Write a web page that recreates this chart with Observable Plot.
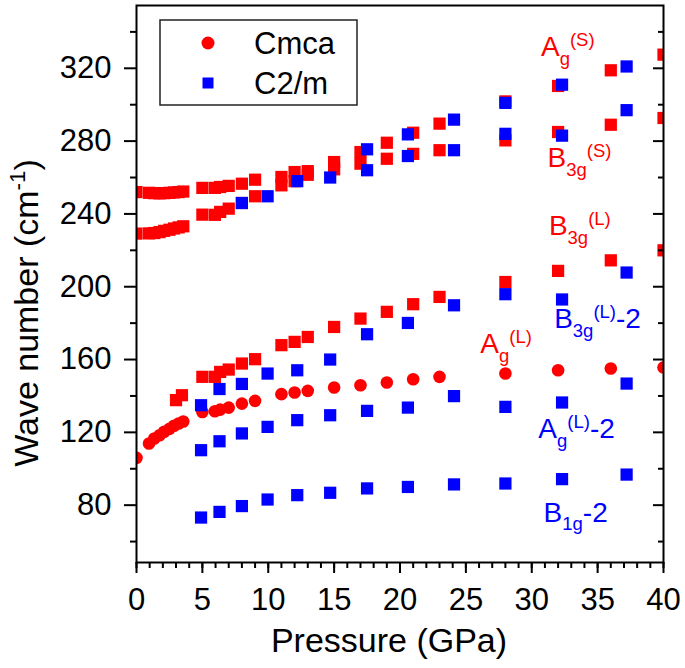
<!DOCTYPE html>
<html><head><meta charset="utf-8">
<script src="https://cdn.jsdelivr.net/npm/d3@7"></script>
<script src="https://cdn.jsdelivr.net/npm/@observablehq/plot@0.6"></script>
<style>
body{margin:0;background:#fff;}
#chart{position:relative;width:685px;height:668px;}
#chart svg{display:block;}
</style></head><body><div id="chart"></div>
<script>
// ---------- data ----------
// Cmca (red) pressures, GPa
const cmcaPressure = [0,0.95,1.35,1.75,2.1,2.5,2.85,3.2,3.55,5,5.95,6.35,7,8,9,11,12,13,15,17,19,21,23,28,32,36,40];
const cmcaAgL  = [106,113.9,116.6,118.4,120.3,121.9,123.6,124.9,126,131.2,131.6,132.5,133.6,135.8,137.3,141,141.9,142.8,144.6,145.9,147.4,149.2,150.5,152.3,154.1,155.1,155.6];
const cmcaAgS  = [252,251.6,251.4,251.3,251.4,251.6,251.8,252,252.3,254.3,254.3,254.8,255.4,256.6,258.8,260.3,263,263.5,268.5,274,279.1,284.6,289.6,301.8,310.3,318.9,327.5];
const cmcaB3gS = [229.2,229.3,229.5,230,230.7,231.3,232,232.6,233.2,239.6,239.5,241.1,242.9,246,249.7,255.7,258,261.5,264.5,267.6,270.3,273,275,280.4,285,289,292.7];
const cmcaB3gLPressure = [3.0,3.45,5,5.95,6.35,7,8,9,11,12,13,15,17,19,21,23,28,32,36,40];
const cmcaB3gL = [137.7,140.4,150.5,150.5,153.2,154.5,157.8,160.2,167.9,169.7,172.4,177.9,182.5,186.2,190.4,194.4,202.6,208.7,214.5,220];

// C2/m (blue) pressures, GPa
const c2mPressure = [4.9,6.3,8.0,9.95,12.2,14.7,17.5,20.6,24.1,28.0,32.3,37.2];
const c2mHighA  = [null,null,null,null,null,null,275.5,283.7,291.8,301,311,321];
const c2mHighB  = [null,null,246,249.7,258,260,264,271.8,275,284,283,297];
const c2mB3gL2  = [134.9,143.8,146.6,152.3,154.1,160,173.9,180.1,189.8,195.9,193,207.8];
const c2mAgL2   = [110.2,115.1,119.4,123,126.7,129.4,131.8,133.6,139.9,134,136.4,146.8];
const c2mB1g2   = [73.2,76.3,79.5,83.1,85.5,86.8,89.2,90,91.4,91.9,94.3,96.8];

// mode labels
const labelText  = ["A_{g}^{(S)}","B_{3g}^{(S)}","B_{3g}^{(L)}","B_{3g}^{(L)}-2","A_{g}^{(L)}","A_{g}^{(L)}-2","B_{1g}-2"];
const labelP     = [30.7,31.2,31.3,31.7,26.1,30.5,30.9];
const labelW     = [326.6,265.6,228.3,177.2,163.5,116.8,70.7];
const labelPhase = ["Cmca","Cmca","Cmca","C2/m","Cmca","C2/m","C2/m"];

// axes
const xMajor = [0,5,10,15,20,25,30,35,40];
const xMinor = d3.range(0,41,1);
const yMajor = [80,120,160,200,240,280,320];
const yMinor = [60,100,140,180,220,260,300,340];
const xTitle = "Pressure (GPa)";
const yTitle = "Wave number (cm^{-1})";

// legend
const legendLabels = ["Cmca","C2/m"];
const legendSymbols = ["circle","square"];
const phaseColor = {"Cmca":"#ff0000","C2/m":"#0000ff"};

// ---------- build tables ----------
function rowsOf(xs, ys, phase){
  const out=[]; xs.forEach((x,i)=>{ if(ys[i]!=null) out.push({P:x,w:ys[i],phase}); }); return out;
}
const cmcaCircles = rowsOf(cmcaPressure,cmcaAgL,"Cmca");
const cmcaSquares = [...rowsOf(cmcaPressure,cmcaAgS,"Cmca"),...rowsOf(cmcaPressure,cmcaB3gS,"Cmca"),...rowsOf(cmcaB3gLPressure,cmcaB3gL,"Cmca")];
const c2mSquares = [...rowsOf(c2mPressure,c2mHighA,"C2/m"),...rowsOf(c2mPressure,c2mHighB,"C2/m"),...rowsOf(c2mPressure,c2mB3gL2,"C2/m"),...rowsOf(c2mPressure,c2mAgL2,"C2/m"),...rowsOf(c2mPressure,c2mB1g2,"C2/m")];
const labels = labelText.map((t,i)=>({t,P:labelP[i],w:labelW[i],phase:labelPhase[i]}));

const FONT = '"Liberation Sans", Arial, Helvetica, sans-serif';

const plot = Plot.plot({
  width:685, height:668,
  marginLeft:136, marginRight:22, marginTop:5, marginBottom:106,
  style:{fontFamily:FONT, background:"#fff", color:"#000", overflow:"visible"},
  x:{domain:[0,40]},
  y:{domain:[48.5,354.5]},
  marks:[
    Plot.dot(cmcaCircles,{x:"P",y:"w",r:6.3,fill:d=>phaseColor[d.phase],stroke:"none",clip:true}),
    Plot.dot(cmcaSquares,{x:"P",y:"w",symbol:"square",r:6.9,fill:d=>phaseColor[d.phase],stroke:"none",clip:true}),
    Plot.dot(c2mSquares,{x:"P",y:"w",symbol:"square",r:6.9,fill:d=>phaseColor[d.phase],stroke:"none",clip:true}),
    Plot.text(labels,{x:"P",y:"w",text:"t",fill:d=>phaseColor[d.phase],fontSize:28,textAnchor:"start",lineAnchor:"bottom"}),
    Plot.axisX({ticks:xMinor,tickSize:6,tickFormat:()=>"",label:null,strokeWidth:2}),
    Plot.axisX({ticks:xMajor,tickSize:11,tickPadding:14,fontSize:31,label:null,strokeWidth:2}),
    Plot.axisY({ticks:yMinor,tickSize:6,tickFormat:()=>"",label:null,strokeWidth:2}),
    Plot.axisY({ticks:yMajor,tickSize:12,tickPadding:13,fontSize:31,label:null,strokeWidth:2}),
    Plot.axisY({anchor:"right",ticks:yMinor,tickSize:-6,tickFormat:()=>"",label:null,strokeWidth:2}),
    Plot.axisY({anchor:"right",ticks:yMajor,tickSize:-11,tickFormat:()=>"",label:null,strokeWidth:2}),
    Plot.frame({stroke:"#000",strokeWidth:2}),
    Plot.text([xTitle],{text:d=>d,frameAnchor:"bottom",textAnchor:"middle",dx:-11,dy:89,fontSize:34,lineAnchor:"bottom"}),
    Plot.text([yTitle],{text:d=>d,frameAnchor:"left",textAnchor:"middle",dx:-99,dy:29,rotate:-90,fontSize:34,lineAnchor:"bottom"})
  ]
});

// rich text: _{sub} and ^{sup}
const NS="http://www.w3.org/2000/svg";
function richify(el){
  const s = el.textContent;
  if(!/[_^]\{/.test(s)) return;
  const fs = parseFloat(getComputedStyle(el).fontSize) || 27;
  const small = Math.round(fs*0.66*10)/10;
  el.textContent = "";
  let cur = 0;
  const add = (str, shift, size)=>{
    const t = document.createElementNS(NS,"tspan");
    t.textContent = str;
    const dy = shift - cur;
    if(dy) t.setAttribute("dy", dy.toFixed(1));
    if(size) t.setAttribute("font-size", size);
    cur = shift;
    el.appendChild(t);
  };
  const re = /([_^])\{([^}]*)\}/g; let last=0, m;
  while((m = re.exec(s))){
    if(m.index>last) add(s.slice(last,m.index),0);
    add(m[2], m[1]==="_" ? 0.3*fs : -0.36*fs, small);
    last = re.lastIndex;
  }
  if(last<s.length) add(s.slice(last),0);
}
document.getElementById("chart").appendChild(plot);
plot.querySelectorAll("text").forEach(richify);

// legend box
const svg = d3.select(plot);
const lg = svg.append("g").attr("font-family",FONT).attr("text-anchor","start");
lg.append("rect").attr("x",160).attr("y",20).attr("width",197).attr("height",85)
  .attr("fill","#fff").attr("stroke","#222").attr("stroke-width",1.5);
legendLabels.forEach((lab,i)=>{
  const cy = 43 + i*40, col = phaseColor[lab];
  if(legendSymbols[i]==="circle") lg.append("circle").attr("cx",208).attr("cy",cy).attr("r",6.5).attr("fill",col);
  else lg.append("rect").attr("x",202.5).attr("y",cy-5.5).attr("width",11).attr("height",11).attr("fill",col);
  lg.append("text").attr("x",254).attr("y",cy+11).attr("font-size",31).attr("text-anchor","start").attr("fill","#000").text(lab);
});
</script></body></html>
